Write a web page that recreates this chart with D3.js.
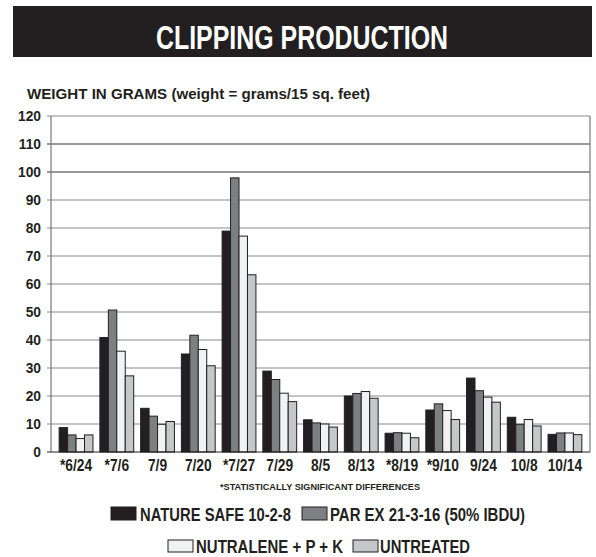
<!DOCTYPE html>
<html>
<head>
<meta charset="utf-8">
<script src="https://cdn.jsdelivr.net/npm/d3@7"></script>
<style>
  body { margin: 0; background: #fff; }
  svg text { font-family: "Liberation Sans", Arial, Helvetica, sans-serif; font-weight: bold; fill: #231f20; }
</style>
</head>
<body>
<div class="root"></div>
<script>
var dates = ["*6/24", "*7/6", "7/9", "7/20", "*7/27", "7/29", "8/5", "8/13", "*8/19", "*9/10", "9/24", "10/8", "10/14"];
var seriesNames = ["NATURE SAFE 10-2-8", "PAR EX 21-3-16 (50% IBDU)", "NUTRALENE + P + K", "UNTREATED"];
var natureSafe = [8.7, 40.9, 15.6, 35.0, 78.9, 28.9, 11.5, 20.0, 6.7, 15.0, 26.4, 12.4, 6.3];
var parEx      = [6.1, 50.7, 12.8, 41.7, 97.9, 25.9, 10.4, 20.9, 6.9, 17.2, 21.9, 9.9, 6.8];
var nutralene  = [4.8, 36.0, 9.9, 36.6, 77.1, 21.0, 10.0, 21.6, 6.7, 14.8, 19.6, 11.6, 6.8];
var untreated  = [6.1, 27.2, 10.9, 30.8, 63.3, 18.0, 8.9, 19.2, 5.1, 11.6, 17.8, 9.3, 6.2];
var yTicks = [0, 10, 20, 30, 40, 50, 60, 70, 80, 90, 100, 110, 120];

var colors = ["#231f20", "#7e7f82", "#f1f2f2", "#c6c7c9"];
var series = [natureSafe, parEx, nutralene, untreated];

var width = 596, height = 557;
var svg = d3.select(".root").append("svg")
  .attr("width", width)
  .attr("height", height);

// squeeze text horizontally to mimic a condensed face
function condense(sel, k) {
  sel.each(function () {
    var w = this.getComputedTextLength();
    d3.select(this)
      .attr("textLength", w * k)
      .attr("lengthAdjust", "spacingAndGlyphs");
  });
}

// title bar
svg.append("rect")
  .attr("x", 13).attr("y", 6)
  .attr("width", 579).attr("height", 51)
  .attr("fill", "#231f20");
svg.append("text")
  .attr("x", 302).attr("y", 48.5)
  .attr("text-anchor", "middle")
  .attr("font-size", 33.5)
  .attr("textLength", 292)
  .attr("lengthAdjust", "spacingAndGlyphs")
  .style("fill", "#fff")
  .text("CLIPPING PRODUCTION");

svg.append("text")
  .attr("x", 27).attr("y", 99)
  .attr("font-size", 15)
  .attr("textLength", 343)
  .attr("lengthAdjust", "spacingAndGlyphs")
  .text("WEIGHT IN GRAMS (weight = grams/15 sq. feet)");

var x0 = d3.scaleBand()
  .domain(dates)
  .range([51, 590])
  .paddingInner(0.17)
  .paddingOuter(0.2);
var x1 = d3.scaleBand()
  .domain(d3.range(series.length))
  .range([0, x0.bandwidth()]);
var y = d3.scaleLinear()
  .domain([0, 120])
  .range([452, 116]);

// gridlines
svg.append("g")
  .selectAll("line")
  .data(yTicks.filter(function (d) { return d > 0; }))
  .enter().append("line")
  .attr("x1", 47).attr("x2", 590)
  .attr("y1", function (d) { return y(d); })
  .attr("y2", function (d) { return y(d); })
  .attr("stroke", function (d) { return (d == 100 || d == 110) ? "#333" : "#8a8a8a"; })
  .attr("stroke-width", 1.2);

// frame
svg.append("line")
  .attr("x1", 51).attr("x2", 51)
  .attr("y1", y(120)).attr("y2", y(0))
  .attr("stroke", "#777").attr("stroke-width", 1.2);
svg.append("line")
  .attr("x1", 590).attr("x2", 590)
  .attr("y1", y(120)).attr("y2", y(0))
  .attr("stroke", "#777").attr("stroke-width", 1.2);

// y labels
svg.append("g")
  .selectAll("text")
  .data(yTicks)
  .enter().append("text")
  .attr("x", 41)
  .attr("y", function (d) { return y(d) + 5; })
  .attr("text-anchor", "end")
  .attr("font-size", 14.5)
  .text(function (d) { return d; })
  .call(condense, 0.95);

// bars
var groups = svg.append("g")
  .selectAll("g")
  .data(dates)
  .enter().append("g")
  .attr("transform", function (d) { return "translate(" + x0(d) + ",0)"; });
groups.selectAll("rect")
  .data(function (d, i) {
    return series.map(function (s, k) { return { k: k, value: s[i] }; });
  })
  .enter().append("rect")
  .attr("x", function (d) { return x1(d.k); })
  .attr("y", function (d) { return y(d.value); })
  .attr("width", x1.bandwidth())
  .attr("height", function (d) { return y(0) - y(d.value); })
  .attr("fill", function (d) { return colors[d.k]; })
  .attr("stroke", "#231f20")
  .attr("stroke-width", 1);

// base line
svg.append("line")
  .attr("x1", 47).attr("x2", 590)
  .attr("y1", y(0)).attr("y2", y(0))
  .attr("stroke", "#231f20").attr("stroke-width", 1.2);

// x labels
svg.append("g")
  .selectAll("text")
  .data(dates)
  .enter().append("text")
  .attr("x", function (d) { return x0(d) + x0.bandwidth() / 2; })
  .attr("y", 471)
  .attr("text-anchor", "middle")
  .attr("font-size", 16)
  .text(function (d) { return d; })
  .call(condense, 0.86);

svg.append("text")
  .attr("x", 320).attr("y", 490)
  .attr("text-anchor", "middle")
  .attr("font-size", 9)
  .attr("textLength", 200)
  .attr("lengthAdjust", "spacingAndGlyphs")
  .text("*STATISTICALLY SIGNIFICANT DIFFERENCES");

// legend
var legendPos = [
  { sx: 111, sy: 507, sh: 13, tx: 140, ty: 520.5, tw: 151 },
  { sx: 302, sy: 507, sh: 13, tx: 330, ty: 520.5, tw: 195 },
  { sx: 168, sy: 540, sh: 12, tx: 196, ty: 552.5, tw: 147 },
  { sx: 353, sy: 540, sh: 12, tx: 380, ty: 552.5, tw: 90 }
];
var legend = svg.append("g")
  .selectAll("g")
  .data(seriesNames)
  .enter().append("g");
legend.append("rect")
  .attr("x", function (d, i) { return legendPos[i].sx; })
  .attr("y", function (d, i) { return legendPos[i].sy; })
  .attr("width", 25)
  .attr("height", function (d, i) { return legendPos[i].sh; })
  .attr("fill", function (d, i) { return colors[i]; })
  .attr("stroke", "#231f20")
  .attr("stroke-width", 1);
legend.append("text")
  .attr("x", function (d, i) { return legendPos[i].tx; })
  .attr("y", function (d, i) { return legendPos[i].ty; })
  .attr("font-size", 17.5)
  .attr("textLength", function (d, i) { return legendPos[i].tw; })
  .attr("lengthAdjust", "spacingAndGlyphs")
  .text(function (d) { return d; });
</script>
</body>
</html>
